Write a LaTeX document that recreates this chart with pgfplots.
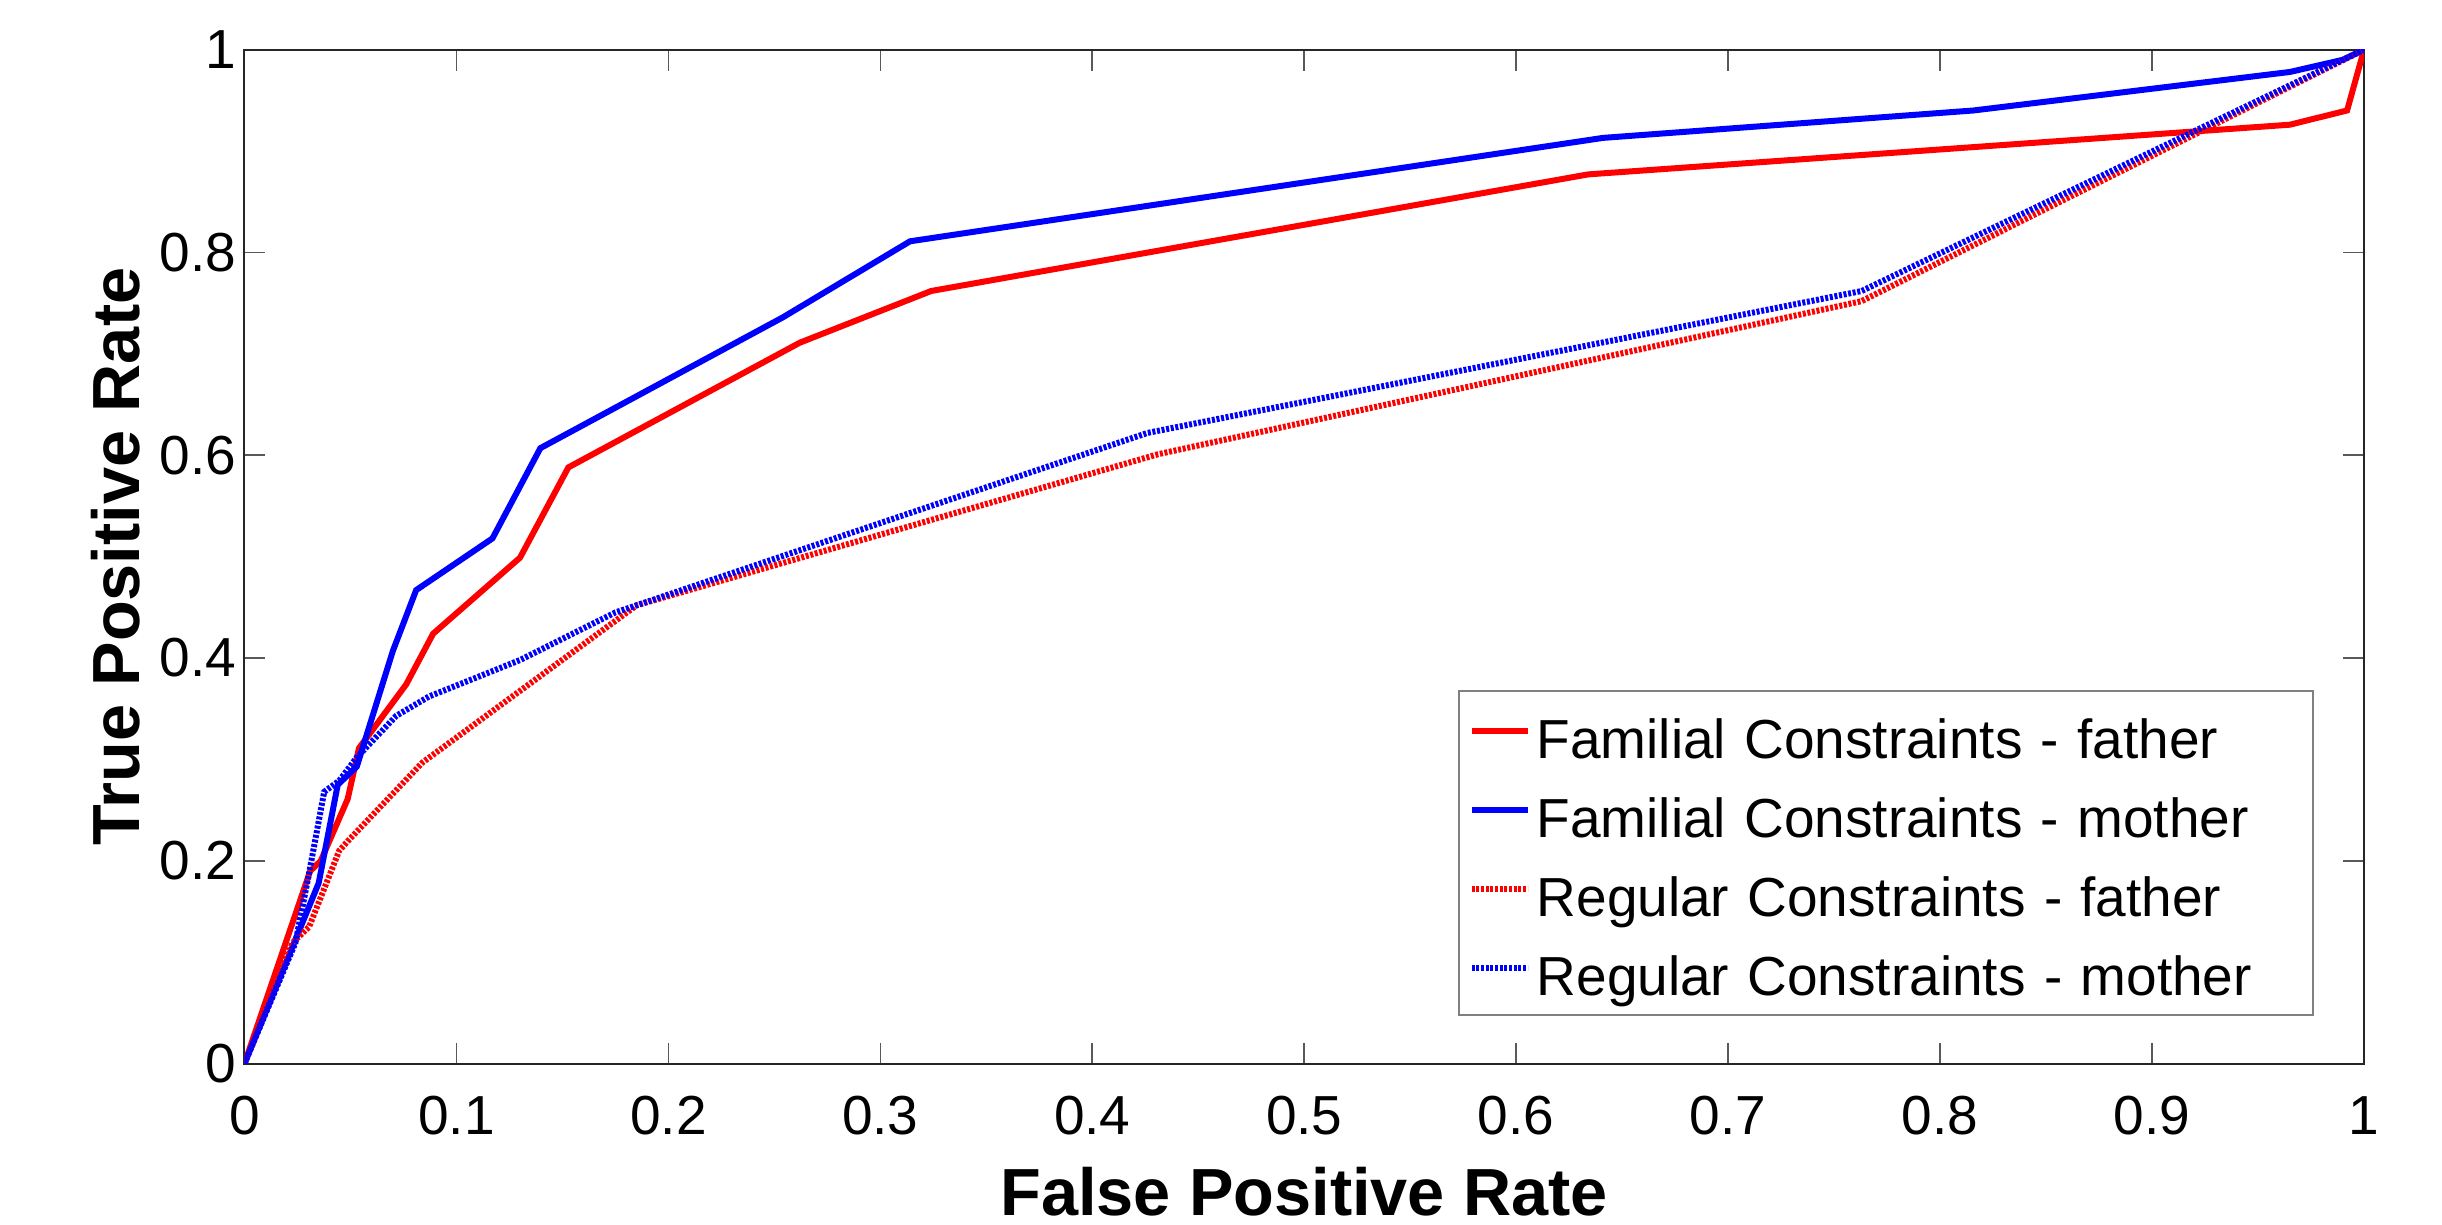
\documentclass[border=0pt]{standalone}
\usepackage{fontspec}
\setmainfont{Liberation Sans}
\usepackage{pgfplots}
\pgfplotsset{compat=1.18}
\begin{document}
\begin{tikzpicture}
\begin{axis}[
  name=ax,
  scale only axis,
  width=635.9pt, height=304.2pt,
  xmin=0, xmax=1, ymin=0, ymax=1,
  xtick={0,0.1,0.2,0.3,0.4,0.5,0.6,0.7,0.8,0.9,1},
  ytick={0,0.2,0.4,0.6,0.8,1},
  xticklabels={0,0.1,0.2,0.3,0.4,0.5,0.6,0.7,0.8,0.9,1},
  yticklabels={0,0.2,0.4,0.6,0.8,1},
  tick align=inside,
  major tick length=6.3pt,
  every tick/.style={gray!70!black, line width=0.5pt},
  axis line style={black!85, line width=0.6pt},
  tick label style={font=\fontsize{16.5}{19.8}\selectfont, inner sep=0pt},
  xticklabel style={anchor=base, yshift=-21.3pt},
  yticklabel style={anchor=east, xshift=-2.25pt},
  xlabel={\bfseries False Positive Rate},
  ylabel={\bfseries True Positive Rate},
  label style={font=\fontsize{20}{24}\selectfont, inner sep=0pt},
  xlabel style={at={(axis description cs:0.5,-0.150)}, anchor=base},
  ylabel style={at={(axis description cs:-0.0497,0.5)}, anchor=base},
  legend style={
    at={(axis description cs:0.5724,0.3687)}, anchor=north west,
    draw=black!50, line width=0.6pt, fill=white,
    inner xsep=3pt, inner ysep=2.2pt,
    font=\fontsize{16.5}{20}\selectfont,
    nodes={inner sep=0pt, text height=18.2pt, text depth=3.5pt, text width=230pt, align=left},
    row sep=2pt, column sep=1.8pt,
  },
  legend cell align=left,
  legend image code/.code={\draw[#1] (0pt,0.95pt) -- (16.8pt,0.95pt);},
  every axis plot/.append style={line width=1.8pt, line join=miter},
]
\addplot[red] coordinates {
(0,0) (0.031,0.19) (0.036,0.2) (0.0487,0.261) (0.054,0.311) (0.0763,0.374)
(0.089,0.424) (0.130,0.499) (0.1528,0.588) (0.262,0.711) (0.324,0.762)
(0.634,0.877) (0.965,0.926) (0.992,0.940) (1,1)};
\addlegendentry{Familial Constraints - father}
\addplot[blue] coordinates {
(0,0) (0.035,0.178) (0.044,0.275) (0.053,0.293) (0.070,0.407) (0.081,0.467)
(0.117,0.518) (0.1396,0.607) (0.254,0.736) (0.314,0.811) (0.641,0.913)
(0.8156,0.940) (0.965,0.978) (0.990,0.990) (1,1)};
\addlegendentry{Familial Constraints - mother}
\addplot[red, dash pattern=on 0.9pt off 0.5pt] coordinates {
(0,0) (0.0226,0.119) (0.0305,0.135) (0.0447,0.21) (0.049,0.22) (0.084,0.297)
(0.185,0.452) (0.431,0.601) (0.763,0.752) (1,1)};
\addlegendentry{Regular Constraints - father}
\addplot[blue, dash pattern=on 0.9pt off 0.5pt] coordinates {
(0,0) (0.024,0.119) (0.0305,0.188) (0.0376,0.268) (0.0447,0.279) (0.053,0.302)
(0.0716,0.343) (0.087,0.362) (0.130,0.398) (0.175,0.445) (0.185,0.452)
(0.426,0.622) (0.763,0.762) (1,1)};
\addlegendentry{Regular Constraints - mother}
\end{axis}
\path (ax.south west) ++(-73.35pt,-48.4pt) coordinate (bbsw);
\path (ax.north east) ++(23.4pt,14.9pt) coordinate (bbne);
\path (bbsw) rectangle (bbne);
\end{tikzpicture}
\end{document}
